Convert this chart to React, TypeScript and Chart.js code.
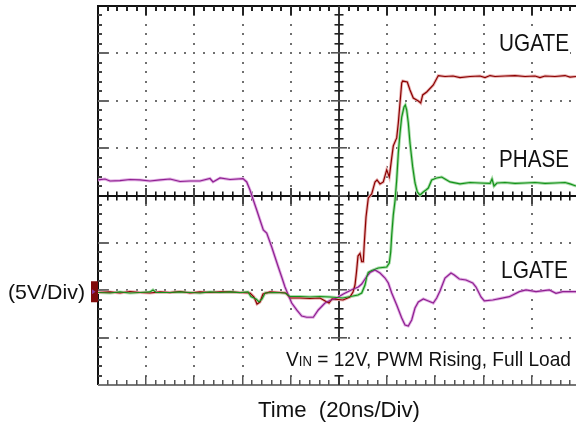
import React, { useEffect, useRef } from "react";
import { Chart, registerables } from "chart.js";

Chart.register(...registerables);

// ---- Data (time in ns, voltage in V; 20 ns/div, 5 V/div) ----
const ugateTime = [
  0, 4.98, 9.13, 13.28, 17.43, 21.58, 25.73, 29.88, 34.03, 38.17, 42.32, 46.47, 50.62, 54.77, 58.92,
  63.07, 64.73, 65.98, 67.22, 68.47, 71.37, 75.52, 78.01, 79.67, 83.82, 87.97, 92.12, 94.61, 95.85,
  97.1, 101.66, 104.56, 105.81, 106.64, 107.26, 107.88, 108.71, 109.42, 110.08, 110.5, 111.21, 112.16,
  113.57, 114.94, 115.77, 117.01, 118.38, 119.79, 120.87, 121.87, 122.53, 123.94, 124.61, 125.31,
  126.02, 126.43, 128.34, 129.46, 130.83, 132.91, 133.9, 134.73, 136.39, 139.13, 141.2, 143.98, 147.3,
  150.21, 154.36, 158.51, 160.58, 162.66, 164.73, 168.88, 173.03, 177.18, 181.33, 183.4, 185.48,
  189.63, 193.78, 195.85, 198.34,
];
const ugateVolts = [
  -0.24, -0.18, -0.29, -0.13, -0.24, -0.29, -0.18, -0.24, -0.13, -0.29, -0.18, -0.24, -0.18, -0.18, -0.24,
  -0.29, -0.71, -1.45, -1.24, -0.4, -0.18, -0.24, -0.29, -0.82, -0.82, -0.87, -0.82, -1.19, -1.35,
  -0.92, -1.03, -0.71, -0.18, 0.55, 1.93, 3.61, 3.88, 3.01, 3.01, 4.99, 7.73, 9.74,
  10.16, 11.43, 11.64, 11.22, 11.43, 12.7, 11.95, 13.97, 15.24, 16.08, 17.65, 19.76,
  21.87, 22.08, 21.98, 21.13, 20.29, 19.97, 19.76, 20.61, 20.92, 21.66, 22.66, 22.56, 22.61,
  22.45, 22.56, 22.61, 22.45, 22.66, 22.56, 22.61, 22.66, 22.56, 22.61, 22.45, 22.61,
  22.56, 22.66, 22.5, 22.56,
];

const phaseTime = [
  0, 4.98, 9.13, 13.28, 17.43, 21.58, 22.82, 24.07, 29.88, 34.03, 38.17, 42.32, 46.47, 50.62, 54.77,
  58.92, 62.24, 63.49, 65.56, 66.81, 68.05, 69.29, 73.44, 77.59, 79.67, 83.82, 87.97, 92.12, 96.27,
  101.66, 107.88, 109.42, 110.79, 111.49, 112.16, 113.57, 116.31, 119.79, 120.87, 121.45, 121.87,
  122.53, 123.24, 123.94, 124.61, 125.31, 126.02, 126.97, 127.51, 128.09, 128.76, 129.46, 130.58,
  131.54, 132.49, 133.61, 134.98, 136.1, 137.05, 138.46, 140.54, 142.61, 143.98, 146.06, 150.21,
  154.36, 158.51, 162.66, 163.49, 164.32, 165.56, 168.88, 173.03, 177.18, 181.33, 185.48, 189.63,
  193.78, 195.85, 198.34,
];
const phaseVolts = [
  -0.24, -0.29, -0.18, -0.29, -0.24, -0.18, 0.03, -0.24, -0.24, -0.18, -0.24, -0.29, -0.18, -0.24, -0.18,
  -0.24, -0.18, -0.66, -0.92, -1.24, -0.92, -0.29, -0.24, -0.29, -0.66, -0.66, -0.71, -0.66, -0.71,
  -0.82, -0.5, -0.29, 0.55, 1.4, 1.87, 2.08, 2.35, 2.45, 2.88, 4.04, 5.83,
  7.94, 9.42, 11.64, 14.49, 16.6, 18.28, 19.34, 19.55, 19.02, 17.65, 15.54, 13.01,
  11.32, 10.37, 10.05, 10.37, 10.58, 10.79, 11.64, 11.85, 11.95, 11.74, 11.43, 11.22,
  11.37, 11.32, 11.27, 11.74, 11.0, 11.32, 11.37, 11.27, 11.32, 11.37, 11.27, 11.32,
  11.37, 11.22, 11.0,
];

const lgateTime = [
  0, 2.9, 4.98, 9.13, 13.28, 17.43, 21.58, 25.73, 29.88, 34.03, 38.17, 42.32, 46.47, 47.72, 50.62,
  54.77, 60.17, 61.7, 63.07, 64.44, 65.85, 67.22, 68.59, 70.0, 72.08, 73.44, 74.81, 76.22, 77.59,
  78.96, 80.37, 82.45, 84.52, 86.6, 89.34, 91.41, 94.19, 96.27, 99.05, 101.79, 103.86, 105.93,
  108.01, 109.42, 111.49, 112.86, 114.94, 117.01, 119.09, 120.46, 121.87, 123.94, 126.02, 127.39,
  128.76, 130.17, 131.54, 132.91, 134.98, 137.05, 139.13, 140.54, 141.91, 143.98, 146.47, 147.84,
  149.92, 152.7, 155.48, 156.85, 158.92, 160.29, 163.78, 167.22, 170.67, 174.82, 177.6, 181.75,
  187.27, 190.04, 192.82, 198.34,
];
const lgateVolts = [
  11.64, 11.74, 11.53, 11.58, 11.69, 11.64, 11.53, 11.64, 11.74, 11.48, 11.53, 11.53, 11.79, 11.43, 11.85,
  11.69, 11.79, 11.43, 10.58, 9.53, 8.47, 7.42, 6.36, 6.04, 4.57, 3.51, 2.46, 1.4, 0.34,
  -0.5, -1.35, -2.08, -2.72, -2.85, -2.85, -2.08, -1.35, -1.08, -0.82, -0.4, -0.13, 0.13,
  0.34, 0.66, 1.45, 1.87, 2.14, 1.82, 1.29, 0.77, -0.29, -1.56, -2.93, -3.67,
  -3.77, -3.14, -1.87, -1.24, -0.92, -1.13, -1.35, -0.82, -0.08, 1.29, 1.82, 1.61,
  1.19, 1.08, 0.77, 0.34, -0.71, -1.13, -1.03, -0.85, -0.68, -0.15, 0.03, -0.15,
  0.03, -0.32, -0.15, -0.15,
];

const traceNames = ["UGATE", "PHASE", "LGATE"];
const axisTitle = "Time  (20ns/Div)";
const scaleTitle = "(5V/Div)";
const conditionMain = "V";
const conditionSub = "IN";
const conditionRest = " = 12V, PWM Rising, Full Load";

// ---- Scope settings ----
const NS_PER_DIV = 20;
const V_PER_DIV = 5;
const MINOR_PER_DIV = 5;
const X_MIN = 0;
const X_MAX = 198.34;
const Y_MIN = -10;
const Y_MAX = 30;
const X_CENTER = 100;
const Y_CENTER = 10;
const FONT = '"Liberation Sans", Arial, Helvetica, sans-serif';

const toPoints = (t: number[], v: number[]) => t.map((x, i) => ({ x, y: v[i] }));

// draw a run of [text, fontSize] parts starting at x, fitted to a target width
function fillRun(ctx: CanvasRenderingContext2D, parts: [string, number][], x: number, y: number, width: number, sy = 1) {
  let total = 0;
  for (const [t, s] of parts) {
    ctx.font = `${s}px ${FONT}`;
    total += ctx.measureText(t).width;
  }
  const sx = width / total;
  ctx.save();
  ctx.translate(x, y);
  ctx.scale(sx, sy);
  let cx = 0;
  for (const [t, s] of parts) {
    ctx.font = `${s}px ${FONT}`;
    ctx.fillText(t, cx, 0);
    cx += ctx.measureText(t).width;
  }
  ctx.restore();
}

const scopePlugin = {
  id: "scopeGrid",
  beforeDatasetsDraw(chart: any) {
    const { ctx, chartArea: a, scales } = chart;
    const xs = scales.x;
    const ys = scales.y;
    const px = (t: number) => xs.getPixelForValue(t);
    const py = (v: number) => ys.getPixelForValue(v);
    const xMinor = NS_PER_DIV / MINOR_PER_DIV;
    const yMinor = V_PER_DIV / MINOR_PER_DIV;
    const nxMinor = Math.floor((X_MAX - X_MIN) / xMinor + 1e-6);
    const nyMinor = Math.round((Y_MAX - Y_MIN) / yMinor);
    const nxMajor = Math.floor((X_MAX - X_MIN) / NS_PER_DIV + 1e-6);
    const nyMajor = Math.round((Y_MAX - Y_MIN) / V_PER_DIV);
    const cx = Math.round(px(X_CENTER));
    const cy = Math.round(py(Y_CENTER));
    ctx.save();

    // dotted graticule
    ctx.fillStyle = "#707070";
    for (let i = 1; i <= nxMajor; i++) {
      const t = X_MIN + i * NS_PER_DIV;
      if (Math.abs(t - X_CENTER) < 1e-6) continue;
      const x = Math.round(px(t));
      for (let j = 1; j < nyMinor; j++) {
        const y = Math.round(py(Y_MIN + j * yMinor));
        ctx.fillRect(x - 1, y - 1, 2, 2);
      }
    }
    for (let j = 1; j < nyMajor; j++) {
      const v = Y_MIN + j * V_PER_DIV;
      if (Math.abs(v - Y_CENTER) < 1e-6) continue;
      const y = Math.round(py(v));
      for (let i = 1; i <= nxMinor; i++) {
        const x = Math.round(px(X_MIN + i * xMinor));
        ctx.fillRect(x - 1, y - 1, 2, 2);
      }
    }

    // frame
    const left = Math.round(a.left);
    const top = Math.round(a.top);
    const bottom = Math.round(a.bottom);
    const right = a.right;
    ctx.fillStyle = "#111";
    ctx.fillRect(left, top - 1, right - left, 2); // top
    ctx.fillRect(left - 1, top - 1, 2, bottom - top + 1); // left
    ctx.fillStyle = "#777";
    ctx.fillRect(left, bottom - 1, right - left, 2); // bottom

    // ticks on top & bottom borders
    for (let i = 1; i <= nxMinor; i++) {
      const x = Math.round(px(X_MIN + i * xMinor));
      const major = i % MINOR_PER_DIV === 0;
      ctx.fillStyle = "#222";
      ctx.fillRect(x - 1, top, 2, major ? 9 : 5);
      ctx.fillStyle = "#555";
      ctx.fillRect(x - 1, bottom - (major ? 9 : 5), 1.5, major ? 9 : 5);
    }
    // ticks on left border
    for (let j = 1; j < nyMinor; j++) {
      const y = Math.round(py(Y_MIN + j * yMinor));
      const major = j % MINOR_PER_DIV === 0;
      ctx.fillStyle = major ? "#666" : "#444";
      ctx.fillRect(left, y - 1, major ? 10 : 4, 2);
    }

    // centre horizontal axis
    ctx.fillStyle = "#111";
    ctx.fillRect(left, cy - 1, right - left, 2);
    for (let i = 1; i <= nxMinor; i++) {
      const x = Math.round(px(X_MIN + i * xMinor));
      const major = i % MINOR_PER_DIV === 0;
      const h = major ? 8 : 4.5;
      ctx.fillStyle = major ? "#444" : "#111";
      ctx.fillRect(x - 1, cy - h, major ? 2 : 1.6, h * 2);
    }
    // centre vertical axis
    ctx.fillStyle = "#333";
    ctx.fillRect(cx - 1, top, 2, bottom - top);
    for (let j = 1; j < nyMinor; j++) {
      const y = Math.round(py(Y_MIN + j * yMinor));
      const major = j % MINOR_PER_DIV === 0;
      const w = major ? 8 : 4.5;
      ctx.fillStyle = major ? "#555" : "#222";
      ctx.fillRect(cx - w, y - 1, w * 2, 1.6);
    }

    // white label panels over the graticule
    ctx.fillStyle = "#fff";
    ctx.fillRect(489, 29, 81, 26);
    ctx.fillRect(489, 145, 84, 26);
    ctx.fillRect(492, 256, 82, 26);
    ctx.fillRect(283, 341, 300, 34);
    ctx.restore();
  },
  afterDraw(chart: any) {
    const { ctx, chartArea: a, scales } = chart;
    const ys = scales.y;
    const gy = ys.getPixelForValue(0);
    ctx.save();
    // ground marker
    ctx.fillStyle = "#7f0a0a";
    ctx.fillRect(a.left - 7, gy - 9, 7, 21);
    ctx.fillStyle = "#8a3a9a";
    ctx.beginPath();
    ctx.moveTo(a.left - 6, gy - 1);
    ctx.lineTo(a.left - 2.5, gy + 1.5);
    ctx.lineTo(a.left - 6, gy + 4);
    ctx.closePath();
    ctx.fill();

    ctx.fillStyle = "#111";
    ctx.textBaseline = "alphabetic";
    ctx.textAlign = "left";

    // channel labels (slightly tall scope font)
    fillRun(ctx, [[traceNames[0], 20.5]], 499, 51, 70, 1.14);
    fillRun(ctx, [[traceNames[1], 20.5]], 499, 166.5, 70, 1.14);
    fillRun(ctx, [[traceNames[2], 20.5]], 501, 278, 67, 1.14);

    // volts per div
    fillRun(ctx, [[scaleTitle, 21]], 8, 299, 77);

    // condition text
    fillRun(
      ctx,
      [
        [conditionMain, 20.4],
        [conditionSub, 14],
        [conditionRest, 20.4],
      ],
      286,
      366,
      285
    );

    // x-axis title
    fillRun(ctx, [[axisTitle, 21.5]], 258, 416.7, 162);
    ctx.restore();
  },
};

export default function App() {
  const canvasRef = useRef<HTMLCanvasElement | null>(null);

  useEffect(() => {
    const canvas = canvasRef.current;
    if (!canvas) return;
    const traces = [
      { label: traceNames[0], data: toPoints(ugateTime, ugateVolts), core: "#8b0000", halo: "#e8b4b4", order: 3 },
      { label: traceNames[2], data: toPoints(lgateTime, lgateVolts), core: "#8e1f90", halo: "#e2b0e4", order: 2 },
      { label: traceNames[1], data: toPoints(phaseTime, phaseVolts), core: "#14921a", halo: "#aadcaa", order: 1 },
    ];
    const datasets: any[] = [];
    for (const tr of traces) {
      datasets.push({
        label: tr.label + " halo",
        data: tr.data,
        borderColor: tr.halo,
        borderWidth: 3,
        pointRadius: 0,
        tension: 0,
        fill: false,
        order: 10,
      });
      datasets.push({
        label: tr.label,
        data: tr.data,
        borderColor: tr.core,
        borderWidth: 1.2,
        pointRadius: 0,
        tension: 0,
        fill: false,
        order: tr.order,
      });
    }
    const chart = new Chart(canvas, {
      type: "line",
      data: { datasets },
      options: {
        animation: false,
        responsive: false,
        devicePixelRatio: 1,
        layout: { padding: { left: 98, top: 6, right: 0, bottom: 43 } },
        plugins: {
          legend: { display: false },
          tooltip: { enabled: false },
          title: { display: false },
        },
        scales: {
          x: { type: "linear", min: X_MIN, max: X_MAX, display: false },
          y: { type: "linear", min: Y_MIN, max: Y_MAX, display: false },
        },
      },
      plugins: [scopePlugin],
    });
    return () => chart.destroy();
  }, []);

  return (
    <div
      style={{
        position: "fixed",
        left: 0,
        top: 0,
        width: 576,
        height: 428,
        background: "#fff",
        overflow: "hidden",
      }}
    >
      <canvas ref={canvasRef} width={576} height={428} style={{ width: 576, height: 428, display: "block" }} />
    </div>
  );
}
